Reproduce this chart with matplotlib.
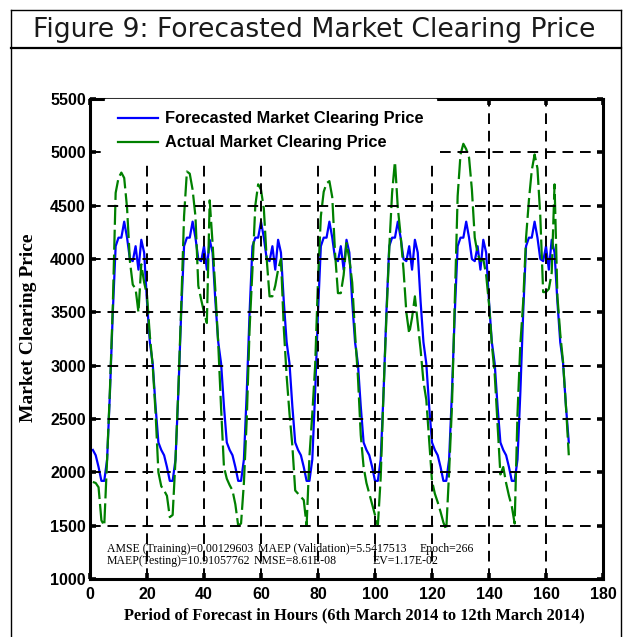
import matplotlib
matplotlib.use("Agg")
import matplotlib.pyplot as plt
from matplotlib.lines import Line2D

# Hours of the forecast window (6th to 12th March 2014)
hours = list(range(1, 169))

# Forecasted market clearing price (Rs/MWh), one row per day
forecast = [
    2210, 2160, 2050, 1920, 1920, 2120, 2750, 3500, 4120, 4200, 4200, 4350,
    4200, 4000, 3980, 4120, 3900, 4180, 4060, 3600, 3220, 3020, 2620, 2280,
    2210, 2160, 2050, 1920, 1920, 2120, 2750, 3500, 4120, 4200, 4200, 4350,
    4200, 4000, 3980, 4120, 3900, 4180, 4060, 3600, 3220, 3020, 2620, 2280,
    2210, 2160, 2050, 1920, 1920, 2120, 2750, 3500, 4120, 4200, 4200, 4350,
    4200, 4000, 3980, 4120, 3900, 4180, 4060, 3600, 3220, 3020, 2620, 2280,
    2210, 2160, 2050, 1920, 1920, 2120, 2750, 3500, 4120, 4200, 4200, 4350,
    4200, 4000, 3980, 4120, 3900, 4180, 4060, 3600, 3220, 3020, 2620, 2280,
    2210, 2160, 2050, 1920, 1920, 2120, 2750, 3500, 4120, 4200, 4200, 4350,
    4200, 4000, 3980, 4120, 3900, 4180, 4060, 3600, 3220, 3020, 2620, 2280,
    2210, 2160, 2050, 1920, 1920, 2120, 2750, 3500, 4120, 4200, 4200, 4350,
    4200, 4000, 3980, 4120, 3900, 4180, 4060, 3600, 3220, 3020, 2620, 2280,
    2210, 2160, 2050, 1920, 1920, 2120, 2750, 3500, 4120, 4200, 4200, 4350,
    4200, 4000, 3980, 4120, 3900, 4180, 4060, 3600, 3220, 3020, 2620, 2280,
]

# Actual market clearing price (Rs/MWh), one row per day
actual = [
    1910, 1900, 1860, 1550, 1500, 2120, 2780, 3560, 4620, 4760, 4810, 4760,
    4480, 3980, 3760, 3720, 3500, 3950, 3780, 3660, 3280, 3000, 2560, 2000,
    1870, 1830, 1780, 1580, 1600, 2120, 2780, 3550, 4400, 4820, 4800, 4650,
    4400, 3750, 3620, 3500, 3400, 4550, 4150, 3700, 3200, 2600, 2050, 1940,
    1880, 1830, 1700, 1500, 1520, 1900, 2500, 3350, 3900, 4500, 4700, 4650,
    4470, 4000, 3650, 3650, 3750, 3900, 4000, 3350, 2900, 2550, 2250, 1830,
    1800, 1770, 1740, 1500, 2150, 2550, 3000, 3800, 4400, 4630, 4710, 4730,
    4580, 4050, 3680, 3680, 3850, 4150, 4000, 3780, 3300, 2900, 2350, 2050,
    1900, 1800, 1700, 1600, 1500, 1950, 2750, 3450, 4100, 4620, 4920, 4480,
    4220, 3900, 3500, 3300, 3450, 3650, 3400, 3150, 2850, 2680, 2300, 1920,
    1800, 1720, 1630, 1530, 1460, 2000, 2620, 3600, 4590, 4980, 5080, 5030,
    4950, 4650, 4200, 4050, 3980, 4000, 3850, 3580, 3200, 2920, 2450, 1980,
    2050, 1900, 1780, 1680, 1520, 2550, 3200, 3600, 4200, 4550, 4830, 4980,
    4850, 4400, 3690, 3690, 3720, 3870, 4700, 3650, 3300, 3030, 2620, 2160,
]

x_ticks = list(range(0, 181, 20))
y_ticks = list(range(1000, 5501, 500))

stats_row1 = ["AMSE (Training)=0.00129603", "MAEP (Validation)=5.5417513", "Epoch=266"]
stats_row2 = ["MAEP(Testing)=10.91057762", "NMSE=8.61E-08", "EV=1.17E-02"]

W, H = 627, 637
fig = plt.figure(figsize=(W / 100, H / 100), dpi=100)

# page frame with the caption box
def px_line(x0, y0, x1, y1, lw=1.0):
    fig.add_artist(Line2D([x0 / W, x1 / W], [1 - y0 / H, 1 - y1 / H],
                          color="black", lw=lw, transform=fig.transFigure))

px_line(11, 10, 621, 10)
px_line(11, 10, 11, 637)
px_line(621, 10, 621, 637)
px_line(11, 48, 621, 48, lw=1.6)

fig.text(33 / W, 1 - 30 / H, "Figure 9: Forecasted Market Clearing Price",
         fontsize=19.2, family="DejaVu Sans", va="center", ha="left", color="#1a1a1a")

ax = fig.add_axes([90 / W, 1 - 579 / H, 513 / W, 480 / H])

ax.plot(hours, forecast, color="#0000ff", lw=1.6, zorder=2)
ax.plot(hours, actual, color="#008000", lw=1.6, zorder=2.1,
        dashes=(9, 2.2), solid_capstyle="butt", dash_capstyle="butt")

ax.set_xlim(0, 180)
ax.set_ylim(1000, 5500)
ax.set_xticks(x_ticks)
ax.set_yticks(y_ticks)
ax.set_xticklabels([str(v) for v in x_ticks], fontsize=11.5, fontweight="bold",
                   family="Liberation Sans")
ax.set_yticklabels([str(v) for v in y_ticks], fontsize=11.5, fontweight="bold",
                   family="Liberation Sans")
ax.tick_params(direction="in", length=4, width=2.6, top=True, right=True,
               colors="black")
ax.tick_params(axis="x", pad=6)
ax.tick_params(axis="y", pad=3)
for s in ax.spines.values():
    s.set_linewidth(2.2)

ax.set_axisbelow(False)
ax.grid(True, color="black", lw=1.4, linestyle=(0, (5.5, 3.5)))

ax.set_xlabel("Period of Forecast in Hours (6th March 2014 to 12th March 2014)",
              fontsize=11.8, fontweight="bold", family="Liberation Serif")
ax.xaxis.set_label_coords((354 - 90) / 513, -(607 - 579) / 480)
ax.xaxis.label.set_va("top")
ax.set_ylabel("Market Clearing Price", fontsize=14, fontweight="bold",
              family="Liberation Serif")
ax.yaxis.set_label_coords(-53 / 513, (579 - 328) / 480)

handles = [Line2D([0], [0], color="#0000ff", lw=1.6),
           Line2D([0], [0], color="#008000", lw=1.6)]
leg = ax.legend(handles, ["Forecasted Market Clearing Price", "Actual Market Clearing Price"],
                loc="upper left", bbox_to_anchor=(0.03, 1.0), borderaxespad=0,
                frameon=True, fancybox=False, edgecolor="white", facecolor="white",
                framealpha=1, handlelength=2.45, handletextpad=0.45, labelspacing=0.55,
                borderpad=0.75, prop={"family": "Liberation Sans", "weight": "bold", "size": 11.8})
leg.set_zorder(5)

# training / testing statistics
for txt, xh in zip(stats_row1, [6, 59, 115.5]):
    ax.text(xh, 1285, txt, fontsize=8.5, family="Liberation Serif", va="center", ha="left")
for txt, xh in zip(stats_row2, [6, 57.5, 99]):
    ax.text(xh, 1170, txt, fontsize=8.5, family="Liberation Serif", va="center", ha="left")

fig.savefig("out.png", dpi=100)
